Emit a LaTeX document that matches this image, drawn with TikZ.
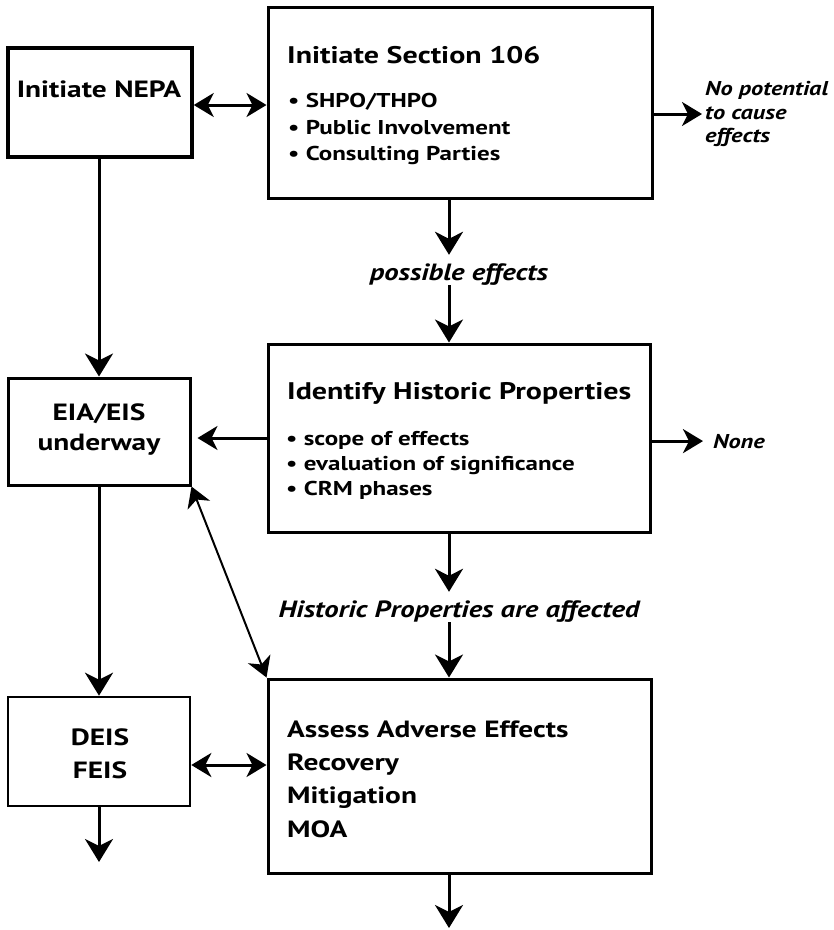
\documentclass[tikz,border=0pt]{standalone}
\usepackage{fontspec}
\setmainfont{PT Sans}[FakeStretch=1.25]
\newfontfamily\itfam{PT Sans}[FakeStretch=1.22]
\usetikzlibrary{arrows.meta}
\tikzset{
  box/.style={draw, line width=3pt, inner sep=0pt},
  ttl/.style={font=\bfseries\fontsize{24}{28}\selectfont, inner sep=0pt, anchor=base west},
  bul/.style={font=\bfseries\fontsize{20}{24}\selectfont, inner sep=0pt, anchor=base west},
  big/.style={font=\bfseries\fontsize{23.5}{27}\selectfont, inner sep=0pt, anchor=base west},
  mid/.style={font=\bfseries\fontsize{23.5}{27}\selectfont, inner sep=0pt, anchor=base},
  lbl/.style={font=\itfam\bfseries\itshape\fontsize{23.5}{26}\selectfont, inner xsep=0pt, inner ysep=3pt, text height=22pt, text depth=2pt, anchor=base},
  side/.style={font=\itfam\bfseries\itshape\fontsize{20}{23.5}\selectfont, inner sep=0pt, align=left, anchor=west},
  tipA/.tip={Stealth[length=23pt,width=28pt,inset=7pt]},
  tipB/.tip={Stealth[length=20pt,width=24pt,inset=6pt]},
  arr/.style={line width=3pt, -tipA},
  arrs/.style={line width=3pt, -tipB},
  dbl/.style={line width=3pt, tipB-tipB},
  thin/.style={line width=2pt, tipB-tipB},
}
\begin{document}
\begin{tikzpicture}[x=1pt,y=-1pt]
\useasboundingbox (0,0) rectangle (834,930);
% boxes
\node[box, line width=3.5pt, minimum width=184pt, minimum height=109pt] (nepa) at (100,102.5) {};
\node[box, minimum width=384pt, minimum height=191pt] (sec) at (460,102.5) {};
\node[box, minimum width=382pt, minimum height=188pt] (ident) at (459,438) {};
\node[box, minimum width=182pt, minimum height=107pt] (eia) at (99,431.5) {};
\node[box, line width=2.6pt, minimum width=182pt, minimum height=109pt] (deis) at (99,751.5) {};
\node[box, minimum width=383pt, minimum height=194pt] (assess) at (459.5,776) {};
% texts
\node[mid] (nepaT) at (99,97) {Initiate NEPA};
\node[ttl] (secT) at (287,63) {Initiate Section 106};
\node[bul] (secB1) at (288,107) {\textbullet~SHPO/THPO};
\node[bul] (secB2) at (288,134) {\textbullet~Public Involvement};
\node[bul] (secB3) at (288,160) {\textbullet~Consulting Parties};
\node[ttl] (idT) at (287,399) {Identify Historic Properties};
\node[bul] (idB1) at (286,445) {\textbullet~scope of effects};
\node[bul] (idB2) at (286,470) {\textbullet~evaluation of significance};
\node[bul] (idB3) at (286,495) {\textbullet~CRM phases};
\node[mid] (eiaT1) at (99,420) {EIA/EIS};
\node[mid] (eiaT2) at (99,450) {underway};
\node[mid] (deisT1) at (100,745) {DEIS};
\node[mid] (deisT2) at (100,778) {FEIS};
\node[big] (asT1) at (287,737) {Assess Adverse Effects};
\node[big] (asT2) at (287,770) {Recovery};
\node[big] (asT3) at (287,803) {Mitigation};
\node[big] (asT4) at (287,837) {MOA};
% labels
\node[lbl] (poss) at (459,280) {possible effects};
\node[lbl] (hist) at (459,617) {Historic Properties are affected};
\node[side] (nopot) at (705,114) {No potential\\to cause\\effects};
\node[side, anchor=base west] (none) at (713,448) {None};
% helper coordinates
\coordinate (cx) at (449,0);
\coordinate (endA) at (449,928);
\coordinate (endD) at (99,862);
\coordinate (yA) at (0,105);
\coordinate (yB) at (0,765);
% connectors
\draw[dbl] (nepa.east |- yA) -- (sec.west |- yA);
\draw[arrs] (sec.east |- nopot.west) -- ([xshift=-3pt]nopot.west);
\draw[arr] (sec.south -| cx) -- (poss.north -| cx);
\draw[arr] (poss.south -| cx) -- (ident.north -| cx);
\draw[arrs] (ident.east |- none.west) -- ([xshift=-10pt]none.west);
\draw[arr] (ident.south -| cx) -- (hist.north -| cx);
\draw[arr] (hist.south -| cx) -- (assess.north -| cx);
\draw[arr] (assess.south -| cx) -- (endA);
\draw[arrs, shorten >=6pt] (ident.west) -- (ident.west -| eia.east);
\draw[arr] (nepa.south -| eia.north) -- (eia.north);
\draw[arr] (eia.south) -- (deis.north);
\draw[arr] (deis.south) -- (endD);
\draw[dbl] (deis.east |- yB) -- (assess.west |- yB);
\draw[thin] (eia.south east) -- (assess.north west);
\end{tikzpicture}
\end{document}
